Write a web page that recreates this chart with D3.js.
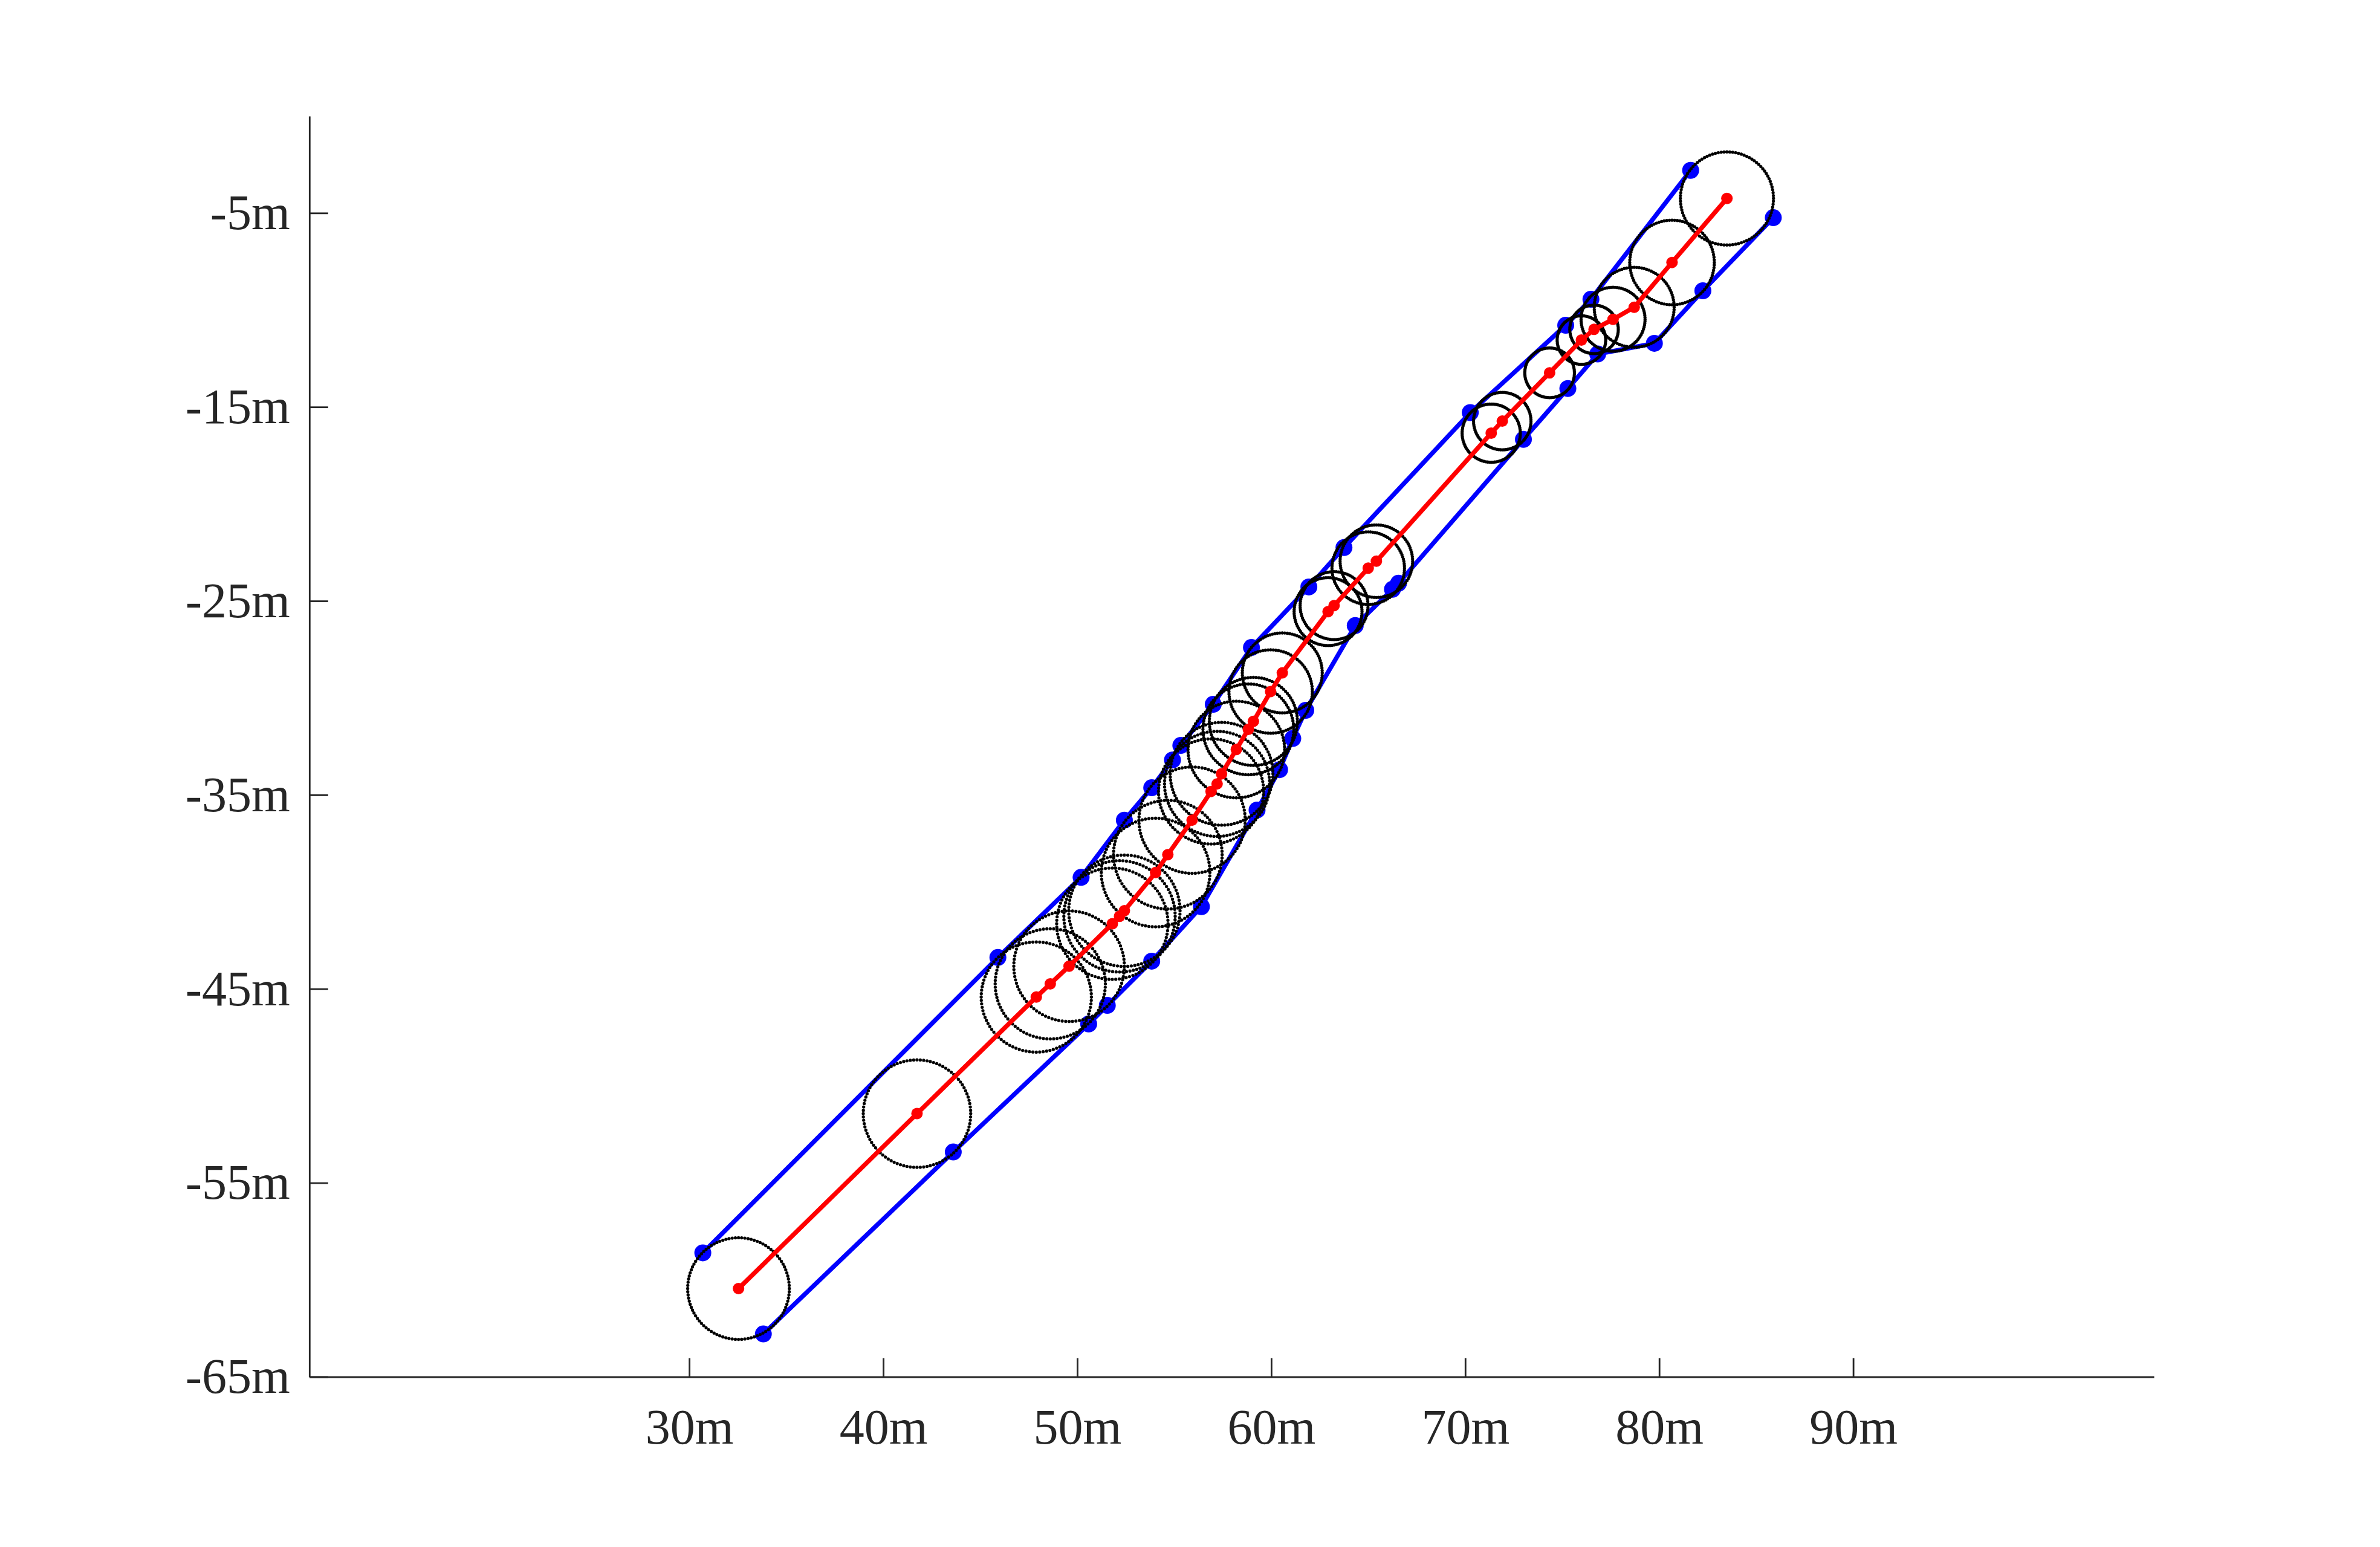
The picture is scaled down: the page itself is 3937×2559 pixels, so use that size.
<!DOCTYPE html>
<html>
<head>
<meta charset="utf-8">
<script src="https://cdn.jsdelivr.net/npm/d3@7"></script>
<style>
  html, body { margin: 0; padding: 0; background: #ffffff; }
  svg { display: block; }
</style>
</head>
<body>
<svg id="chart" width="3937" height="2559"></svg>
<script>
// ---- data (metres) ----
const centerX = [32.54, 41.74, 47.89, 48.61, 49.58, 51.81, 52.18, 52.43, 54.04, 54.67,
                 55.92, 56.90, 57.21, 57.44, 58.20, 58.82, 59.08, 59.97, 60.57, 62.93,
                 63.24, 65.00, 65.42, 71.34, 71.91, 74.35, 75.99, 76.64, 77.62, 78.71,
                 80.66, 83.49];
const centerY = [-60.45, -51.43, -45.42, -44.74, -43.83, -41.64, -41.26, -40.97, -39.00, -38.08,
                 -36.30, -34.82, -34.43, -33.91, -32.66, -31.62, -31.21, -29.67, -28.71, -25.55,
                 -25.24, -23.31, -22.95, -16.35, -15.73, -13.24, -11.55, -11.00, -10.48, -9.86,
                 -7.55, -4.25];
const radius  = [2.62, 2.77, 2.84, 2.84, 2.85, 2.87, 2.87, 2.87, 2.80, 2.80,
                 2.74, 2.71, 2.71, 2.65, 2.49, 2.34, 2.27, 2.15, 2.06, 1.75,
                 1.75, 1.87, 1.87, 1.50, 1.48, 1.28, 1.25, 1.25, 1.65, 2.06,
                 2.18, 2.40];

const leftX  = [30.70, 45.91, 50.20, 52.43, 53.84, 54.91, 55.34, 57.01, 58.98, 61.94, 63.75, 70.26, 75.18, 76.48, 81.62];
const leftY  = [-58.61, -43.38, -39.25, -36.30, -34.63, -33.20, -32.45, -30.33, -27.40, -24.28, -22.25, -15.29, -10.79, -9.45, -2.80];
const rightX = [33.82, 43.61, 50.59, 51.55, 53.84, 56.40, 59.27, 60.43, 61.11, 61.78, 64.33, 66.25, 66.56, 73.00, 75.29, 76.83, 79.75, 82.25, 85.88];
const rightY = [-62.79, -53.41, -46.81, -45.85, -43.57, -40.76, -35.78, -33.70, -32.09, -30.64, -26.27, -24.40, -24.09, -16.67, -14.05, -12.27, -11.72, -9.01, -5.24];

const xTicks = [30, 40, 50, 60, 70, 80, 90];
const yTicks = [-65, -55, -45, -35, -25, -15, -5];
const xDomain = [10.42, 105.5];
const yDomain = [-65, 0];

// ---- layout ----
const svg = d3.select("#chart");
const plotLeft = 511.8, plotRight = 3563, plotTop = 191.9, plotBottom = 2277.5;
const x = d3.scaleLinear().domain(xDomain).range([plotLeft, plotRight]);
const y = d3.scaleLinear().domain(yDomain).range([plotBottom, plotTop]);
const pxPerM = (plotBottom - plotTop) / (yDomain[1] - yDomain[0]);

const axisColor = "#262626";
const fontFamily = "'Liberation Serif', 'DejaVu Serif', serif";
const fontSize = 82;

// ---- axes ----
const xAxis = d3.axisBottom(x).tickValues(xTicks).tickFormat(d => d + "m")
  .tickSizeInner(-31).tickSizeOuter(0).tickPadding(52);
const yAxis = d3.axisLeft(y).tickValues(yTicks).tickFormat(d => d + "m")
  .tickSizeInner(-31).tickSizeOuter(0).tickPadding(32);

const gx = svg.append("g").attr("transform", `translate(0,${plotBottom})`).call(xAxis);
const gy = svg.append("g").attr("transform", `translate(${plotLeft},0)`).call(yAxis);
[gx, gy].forEach(g => {
  g.select(".domain").attr("stroke", axisColor).attr("stroke-width", 2.8);
  g.selectAll(".tick line").attr("stroke", axisColor).attr("stroke-width", 2.8);
  g.selectAll(".tick text").attr("fill", axisColor)
    .style("font-family", fontFamily).style("font-size", fontSize + "px");
});

// ---- blue boundaries ----
const leftPts = leftX.map((v, i) => [v, leftY[i]]);
const rightPts = rightX.map((v, i) => [v, rightY[i]]);
const line = d3.line().x(d => x(d[0])).y(d => y(d[1]));
const blue = "#0000ff";
[leftPts, rightPts].forEach(pts => {
  svg.append("path").datum(pts).attr("d", line)
    .attr("fill", "none").attr("stroke", blue).attr("stroke-width", 7.5)
    .attr("stroke-linejoin", "round");
  svg.append("g").selectAll("circle").data(pts).join("circle")
    .attr("cx", d => x(d[0])).attr("cy", d => y(d[1])).attr("r", 14)
    .attr("fill", blue);
});

// ---- dotted circles ----
const centers = centerX.map((v, i) => ({ cx: v, cy: centerY[i], r: radius[i] }));
svg.append("g").selectAll("circle").data(centers).join("circle")
  .attr("cx", d => x(d.cx)).attr("cy", d => y(d.cy))
  .attr("r", d => d.r * pxPerM)
  .attr("pathLength", 100)
  .attr("fill", "none").attr("stroke", "#000")
  .attr("stroke-width", 5.3).attr("stroke-linecap", "round")
  .attr("stroke-dasharray", "0 1");

// ---- red path ----
const red = "#ff0000";
const centerPts = centers.map(d => [d.cx, d.cy]);
svg.append("path").datum(centerPts).attr("d", line)
  .attr("fill", "none").attr("stroke", red).attr("stroke-width", 7.5)
  .attr("stroke-linejoin", "round");
svg.append("g").selectAll("circle").data(centerPts).join("circle")
  .attr("cx", d => x(d[0])).attr("cy", d => y(d[1])).attr("r", 9.5)
  .attr("fill", red);
</script>
</body>
</html>
